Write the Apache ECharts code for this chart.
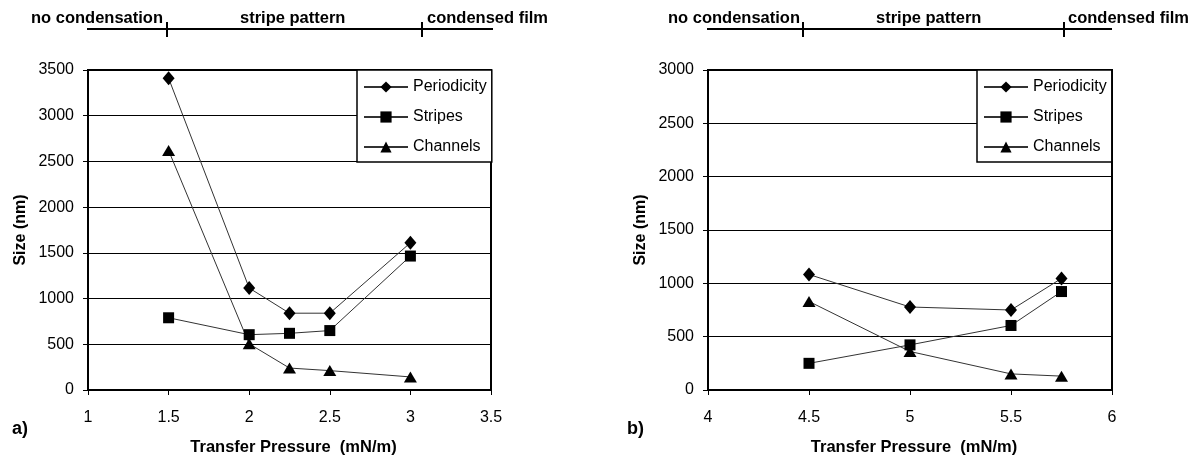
<!DOCTYPE html>
<html>
<head>
<meta charset="utf-8">
<script src="https://cdn.jsdelivr.net/npm/echarts@6/dist/echarts.min.js"></script>
<style>
  html, body { margin: 0; padding: 0; background: #fff; }
  #chart { width: 1201px; height: 461px; }
</style>
</head>
<body>
<div id="chart"></div>
<script>
// panel a)
var pressureA = [1.5, 2, 2.25, 2.5, 3];
var periodicityA = [3410, 1115, 840, 840, 1610];
var stripesA = [790, 605, 620, 650, 1465];
var channelsA = [2620, 505, 240, 212, 143];

// panel b)
var pressureB = [4.5, 5, 5.5, 5.75];
var periodicityB = [1083, 778, 750, 1046];
var stripesB = [250, 423, 605, 923];
var channelsB = [830, 361, 151, 130];

var seriesNames = ['Periodicity', 'Stripes', 'Channels'];
var phaseLabels = ['no condensation', 'stripe pattern', 'condensed film'];

var FONT = '"Liberation Sans", Arial, sans-serif';

function pairs(xs, ys) {
    return xs.map(function (x, i) { return [x, ys[i]]; });
}

function mkSeries(name, idx, data, symbol, size) {
    return {
        name: name,
        type: 'line',
        xAxisIndex: idx,
        yAxisIndex: idx,
        data: data,
        symbol: symbol,
        symbolSize: size,
        itemStyle: { color: '#000' },
        lineStyle: { color: '#333', width: 1 },
        emphasis: { disabled: true },
        animation: false
    };
}

function xAxisFor(idx, min, max) {
    return {
        type: 'value', gridIndex: idx, min: min, max: max, interval: 0.5,
        name: 'Transfer Pressure  (mN/m)', nameLocation: 'middle', nameGap: 49,
        nameTextStyle: { fontFamily: FONT, fontSize: 16.5, fontWeight: 'bold', color: '#000', padding: [0, 0, 0, 8] },
        axisLine: { lineStyle: { color: '#000', width: 1.5 } },
        axisTick: { length: 5, lineStyle: { color: '#000' } },
        axisLabel: { fontFamily: FONT, fontSize: 16, color: '#000', margin: 20 },
        splitLine: { show: false }
    };
}

function yAxisFor(idx, max) {
    return {
        type: 'value', gridIndex: idx, min: 0, max: max, interval: 500,
        name: 'Size (nm)', nameLocation: 'middle', nameGap: 59, nameRotate: 90,
        nameTextStyle: { fontFamily: FONT, fontSize: 16, fontWeight: 'bold', color: '#000' },
        axisLine: { show: true, lineStyle: { color: '#000', width: 1.5 } },
        axisTick: { show: true, length: 5, lineStyle: { color: '#000' } },
        axisLabel: {
            fontFamily: FONT, fontSize: 16, color: '#000', margin: 14,
            formatter: function (v) { return String(v); }
        },
        splitLine: { show: true, lineStyle: { color: '#000', width: 1 } }
    };
}

function legendFor(left) {
    return {
        data: seriesNames, orient: 'vertical', left: left, top: 70,
        itemWidth: 44, itemHeight: 14, itemGap: 10,
        padding: [7, 5, 5, 6],
        borderColor: '#000', borderWidth: 1.5, borderRadius: 0,
        backgroundColor: '#fff',
        selectedMode: false,
        textStyle: { fontFamily: FONT, fontSize: 16, color: '#000', lineHeight: 20 }
    };
}

// phase bar above each panel
function phaseBar(x0, x1, t1, t2, textX) {
    var els = [
        { type: 'line', shape: { x1: x0, y1: 29, x2: x1, y2: 29 }, style: { stroke: '#000', lineWidth: 2 } },
        { type: 'line', shape: { x1: t1, y1: 22, x2: t1, y2: 37 }, style: { stroke: '#000', lineWidth: 2 } },
        { type: 'line', shape: { x1: t2, y1: 22, x2: t2, y2: 37 }, style: { stroke: '#000', lineWidth: 2 } }
    ];
    phaseLabels.forEach(function (txt, i) {
        els.push({
            type: 'text', left: textX[i], top: 10, z: 10,
            style: { text: txt, font: 'bold 16.5px ' + FONT, fill: '#000' }
        });
    });
    return els;
}

var graphics = []
    .concat(phaseBar(87, 493, 167, 422, [31, 240, 427]))
    .concat(phaseBar(707, 1112, 803, 1064, [668, 876, 1068]))
    .concat([
        { type: 'text', left: 12, top: 420, style: { text: 'a)', font: 'bold 18px ' + FONT, fill: '#000' } },
        { type: 'text', left: 627, top: 420, style: { text: 'b)', font: 'bold 18px ' + FONT, fill: '#000' } }
    ]);

var option = {
    backgroundColor: '#fff',
    animation: false,
    grid: [
        { left: 88, top: 70, width: 403, height: 322, show: true, borderColor: '#000', borderWidth: 2, backgroundColor: 'transparent' },
        { left: 708, top: 70, width: 404, height: 323, show: true, borderColor: '#000', borderWidth: 2, backgroundColor: 'transparent' }
    ],
    xAxis: [xAxisFor(0, 1, 3.5), xAxisFor(1, 4, 6)],
    yAxis: [yAxisFor(0, 3500), yAxisFor(1, 3000)],
    legend: [legendFor(357), legendFor(977)],
    graphic: graphics,
    series: [
        mkSeries('Periodicity', 0, pairs(pressureA, periodicityA), 'diamond', [12, 14]),
        mkSeries('Stripes', 0, pairs(pressureA, stripesA), 'rect', 11),
        mkSeries('Channels', 0, pairs(pressureA, channelsA), 'triangle', [13, 11]),
        mkSeries('Periodicity', 1, pairs(pressureB, periodicityB), 'diamond', [12, 14]),
        mkSeries('Stripes', 1, pairs(pressureB, stripesB), 'rect', 11),
        mkSeries('Channels', 1, pairs(pressureB, channelsB), 'triangle', [13, 11])
    ]
};

var chart = echarts.init(document.getElementById('chart'), null, { renderer: 'canvas' });
chart.setOption(option);
</script>
</body>
</html>
